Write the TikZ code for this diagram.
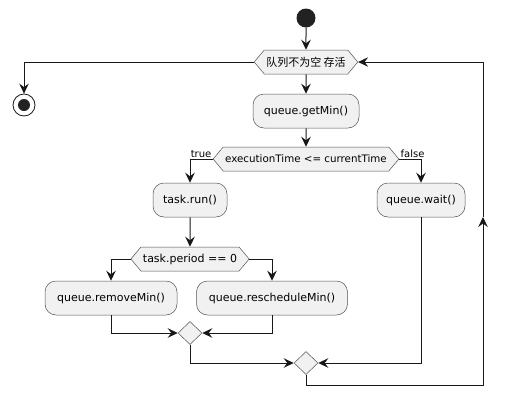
\documentclass[tikz,border=0pt]{standalone}
\usepackage{fontspec}
\setmainfont{DejaVu Sans}
\newfontfamily\cjkfont{Noto Sans CJK SC}
\usetikzlibrary{positioning,shapes.symbols,shapes.geometric,arrows.meta}
\definecolor{boxfill}{HTML}{F1F1F1}
\definecolor{linecol}{HTML}{181818}
\definecolor{dotfill}{HTML}{222222}
\tikzset{
  action/.style    = {shape=rectangle, draw=linecol!75, fill=boxfill,
                      line width=0.5pt, rounded corners=11pt,
                      minimum height=34pt, inner xsep=9pt},
  choice/.style    = {shape=signal, signal to=west and east,
                      signal pointer angle=100, draw=linecol!75,
                      fill=boxfill, line width=0.5pt,
                      minimum height=24pt, inner xsep=2pt, inner ysep=0pt},
  merge/.style     = {diamond, draw=linecol!75, fill=boxfill,
                      line width=0.5pt, inner sep=0pt,
                      minimum width=24pt, minimum height=23pt},
  startnode/.style = {circle, fill=dotfill, minimum size=19pt, inner sep=0pt},
  stopnode/.style  = {circle, draw=linecol, line width=0.8pt, fill=white,
                      minimum size=22pt, inner sep=0pt,
                      path picture={\fill[dotfill]
                        (path picture bounding box.center) circle (6pt);}},
  flow/.style      = {draw=linecol, line width=1pt,
                      -{Stealth[length=10pt, width=9.5pt, inset=3.5pt]}},
  branch/.style    = {font=\fontsize{10}{12}\selectfont, inner sep=1pt}
}
\begin{document}
\begin{tikzpicture}
  [
    x = 1pt,
    y = -1pt,
    every node/.style = {font=\fontsize{11}{13}\selectfont}
  ]
\useasboundingbox (0,0) rectangle (507,408);

\node [startnode] (start) at (306,18) {};
\node [choice]  (alive)   at (306,62)  {\cjkfont 队列不为空 存活};
\node [stopnode] (stop)   at (24,105)  {};
\node [action, minimum width=106pt] (getmin) at (306,111) {queue.getMin()};
\node [choice, font=\fontsize{10.3}{12}\selectfont] (due) at (306,159)
      {executionTime <= currentTime};
\node [action, minimum width=74pt]  (run)    at (190,200) {task.run()};
\node [action, minimum width=88pt]  (wait)   at (421,200) {queue.wait()};
\node [choice]  (period)  at (190,259) {task.period == 0};
\node [action, minimum width=132pt] (remove)  at (111,298) {queue.removeMin()};
\node [action, minimum width=151pt] (resched) at (272,298) {queue.rescheduleMin()};
\node [merge]   (join)    at (190,333) {};
\node [merge]   (joinall) at (306,363) {};

\coordinate (loopbottom) at (483,385);
\coordinate (loopmid)    at (483,217);

\draw [flow] (start) -- (alive);
\draw [flow] (alive.west) -| (stop.north);
\draw [flow] (alive) -- (getmin);
\draw [flow] (getmin) -- (due);
\draw [flow] (due.west) node [branch, anchor=south east] {true} -| (run.north);
\draw [flow] (due.east) node [branch, anchor=south west] {false} -| (wait.north);
\draw [flow] (run) -- (period);
\draw [flow] (period.west) -| (remove.north);
\draw [flow] (period.east) -| (resched.north);
\draw [flow] (remove.south) |- (join.west);
\draw [flow] (resched.south) |- (join.east);
\draw [flow] (join.south) |- (joinall.west);
\draw [flow] (wait.south) |- (joinall.east);
\draw [flow] (joinall.south) |- (loopbottom) -- (loopmid);
\draw [flow] (loopmid) |- (alive.east);
\end{tikzpicture}
\end{document}
